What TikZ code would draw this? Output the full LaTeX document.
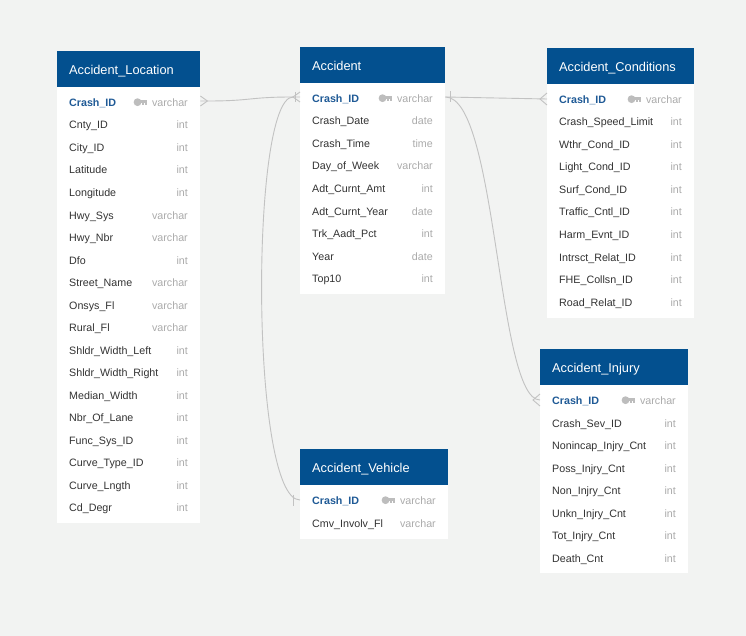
\documentclass[tikz,border=0pt]{standalone}
\usepackage{fontspec}
\setmainfont{Liberation Sans}
\usetikzlibrary{calc}
\definecolor{bg}{HTML}{F2F3F2}
\definecolor{hdr}{HTML}{03508F}
\definecolor{keyblue}{HTML}{1F5A96}
\definecolor{ftxt}{HTML}{333333}
\definecolor{ttxt}{HTML}{ABABAB}
\definecolor{keyg}{HTML}{BDBDBD}
\definecolor{link}{HTML}{C2C2C2}
\tikzset{
  hdrbox/.style={fill=hdr, draw=none, inner sep=0pt},
  bodybox/.style={fill=white, draw=none, inner sep=0pt},
  rowbox/.style={draw=none, inner sep=0pt},
  title/.style={font=\fontsize{12.8}{14}\selectfont, text=white, anchor=base west, inner sep=0pt},
  fld/.style={font=\fontsize{10.7}{12}\selectfont, text=ftxt, anchor=base west, inner sep=0pt},
  pkf/.style={font=\fontsize{10.7}{12}\selectfont\bfseries, text=keyblue, anchor=base west, inner sep=0pt},
  typ/.style={font=\fontsize{10.7}{12}\selectfont, text=ttxt, anchor=base east, inner sep=0pt},
  rel/.style={draw=link, line width=0.9pt},
}
% #1 id, #2 x left, #3 y top, #4 width, #5 body height, #6 title, #7 pk name, #8 rows
\newcommand\ent[8]{%
  \pgfmathsetmacro\xr{#2+#4}%
  \node[hdrbox, minimum width=#4, minimum height=36, anchor=north west] (#1h) at (#2,#3) {};
  \node[bodybox, minimum width=#4, minimum height=#5, anchor=north west] (#1b) at (#2,#3+36) {};
  \node[title] (#1n) at (#2+12,#3+18+5.3) {#6};
  \node[rowbox, minimum width=#4, minimum height=22.5, anchor=west] (#1pk) at (#2,#3+51) {};
  \node[pkf] (#1k) at (#2+12,#3+51+4.5) {#7};
  \node[typ] (#1t) at (\xr-12,#3+51+4.5) {varchar};
  \path (#1t.west) ++(-5,-0.5) coordinate (#1kr);
  \fill[keyg] ($(#1kr)+(-9.4,0)$) circle (3.9pt);
  \fill[keyg] ($(#1kr)+(-8,-2.2)$) rectangle ($(#1kr)+(0,1.0)$);
  \fill[keyg] ($(#1kr)+(-4.8,1.0)$) rectangle ($(#1kr)+(-3.2,3.0)$);
  \fill[keyg] ($(#1kr)+(-1.7,1.0)$) rectangle ($(#1kr)+(0,3.0)$);
  \foreach[count=\i] \f/\t in {#8}{
    \node[fld] at (#2+12,{#3+51+\i*22.5+4.5}) {\f};
    \node[typ] at (\xr-12,{#3+51+\i*22.5+4.5}) {\t};
  }
}
\begin{document}
\begin{tikzpicture}[x=1pt,y=-1pt]
\fill[bg] (0,0) rectangle (746,636);
\useasboundingbox (0,0) rectangle (746,636);

\ent{loc}{57}{51}{143}{436}{Accident\_Location}{Crash\_ID}{Cnty\_ID/int, City\_ID/int, Latitude/int, Longitude/int, Hwy\_Sys/varchar, Hwy\_Nbr/varchar, Dfo/int, Street\_Name/varchar, Onsys\_Fl/varchar, Rural\_Fl/varchar, Shldr\_Width\_Left/int, Shldr\_Width\_Right/int, Median\_Width/int, Nbr\_Of\_Lane/int, Func\_Sys\_ID/int, Curve\_Type\_ID/int, Curve\_Lngth/int, Cd\_Degr/int}

\ent{acc}{300}{47}{145}{211}{Accident}{Crash\_ID}{Crash\_Date/date, Crash\_Time/time, Day\_of\_Week/varchar, Adt\_Curnt\_Amt/int, Adt\_Curnt\_Year/date, Trk\_Aadt\_Pct/int, Year/date, Top10/int}

\ent{cond}{547}{48}{147}{234}{Accident\_Conditions}{Crash\_ID}{Crash\_Speed\_Limit/int, Wthr\_Cond\_ID/int, Light\_Cond\_ID/int, Surf\_Cond\_ID/int, Traffic\_Cntl\_ID/int, Harm\_Evnt\_ID/int, Intrsct\_Relat\_ID/int, FHE\_Collsn\_ID/int, Road\_Relat\_ID/int}

\ent{inj}{540}{349}{148}{188}{Accident\_Injury}{Crash\_ID}{Crash\_Sev\_ID/int, Nonincap\_Injry\_Cnt/int, Poss\_Injry\_Cnt/int, Non\_Injry\_Cnt/int, Unkn\_Injry\_Cnt/int, Tot\_Injry\_Cnt/int, Death\_Cnt/int}

\ent{veh}{300}{449}{148}{53.5}{Accident\_Vehicle}{Crash\_ID}{Cmv\_Involv\_Fl/varchar}

% Location -- Accident
\draw[rel] ($(locpk.east)+(0,-1)$) -- ++(7,0) .. controls +(45,0) and +(-45,0) .. ($(accpk.west)+(-7,-1)$) -- ($(accpk.west)+(0,-1)$);
\draw[rel] ($(locpk.east)+(0,-6)$) -- ($(locpk.east)+(7,-1)$) -- ($(locpk.east)+(0,4)$);
\draw[rel] ($(accpk.west)+(0,-6)$) -- ($(accpk.west)+(-7,-1)$) -- ($(accpk.west)+(0,4)$);
\draw[rel] ($(accpk.west)+(-4.5,-6)$) -- ($(accpk.west)+(-4.5,4)$);

% Accident -- Conditions
\draw[rel] ($(accpk.east)+(0,-1)$) -- (condpk.west);
\draw[rel] ($(accpk.east)+(5,-6.5)$) -- ($(accpk.east)+(5,4.5)$);
\draw[rel] ($(condpk.west)+(0,-6)$) -- ($(condpk.west)+(-7,0)$) -- ($(condpk.west)+(0,6)$);

% Accident -- Vehicle
\draw[rel] ($(accpk.west)+(-7,-1)$) .. controls +(-43,0) and +(-50,0) .. (vehpk.west);
\draw[rel] ($(vehpk.west)+(-7,-5.5)$) -- ($(vehpk.west)+(-7,5.5)$);

% Accident -- Injury
\draw[rel] ($(accpk.east)+(0,-1)$) .. controls +(52,0) and +(-43,0) .. (injpk.west);
\draw[rel] ($(injpk.west)+(0,-6)$) -- ($(injpk.west)+(-7,0)$) -- ($(injpk.west)+(0,6)$);
\end{tikzpicture}
\end{document}
